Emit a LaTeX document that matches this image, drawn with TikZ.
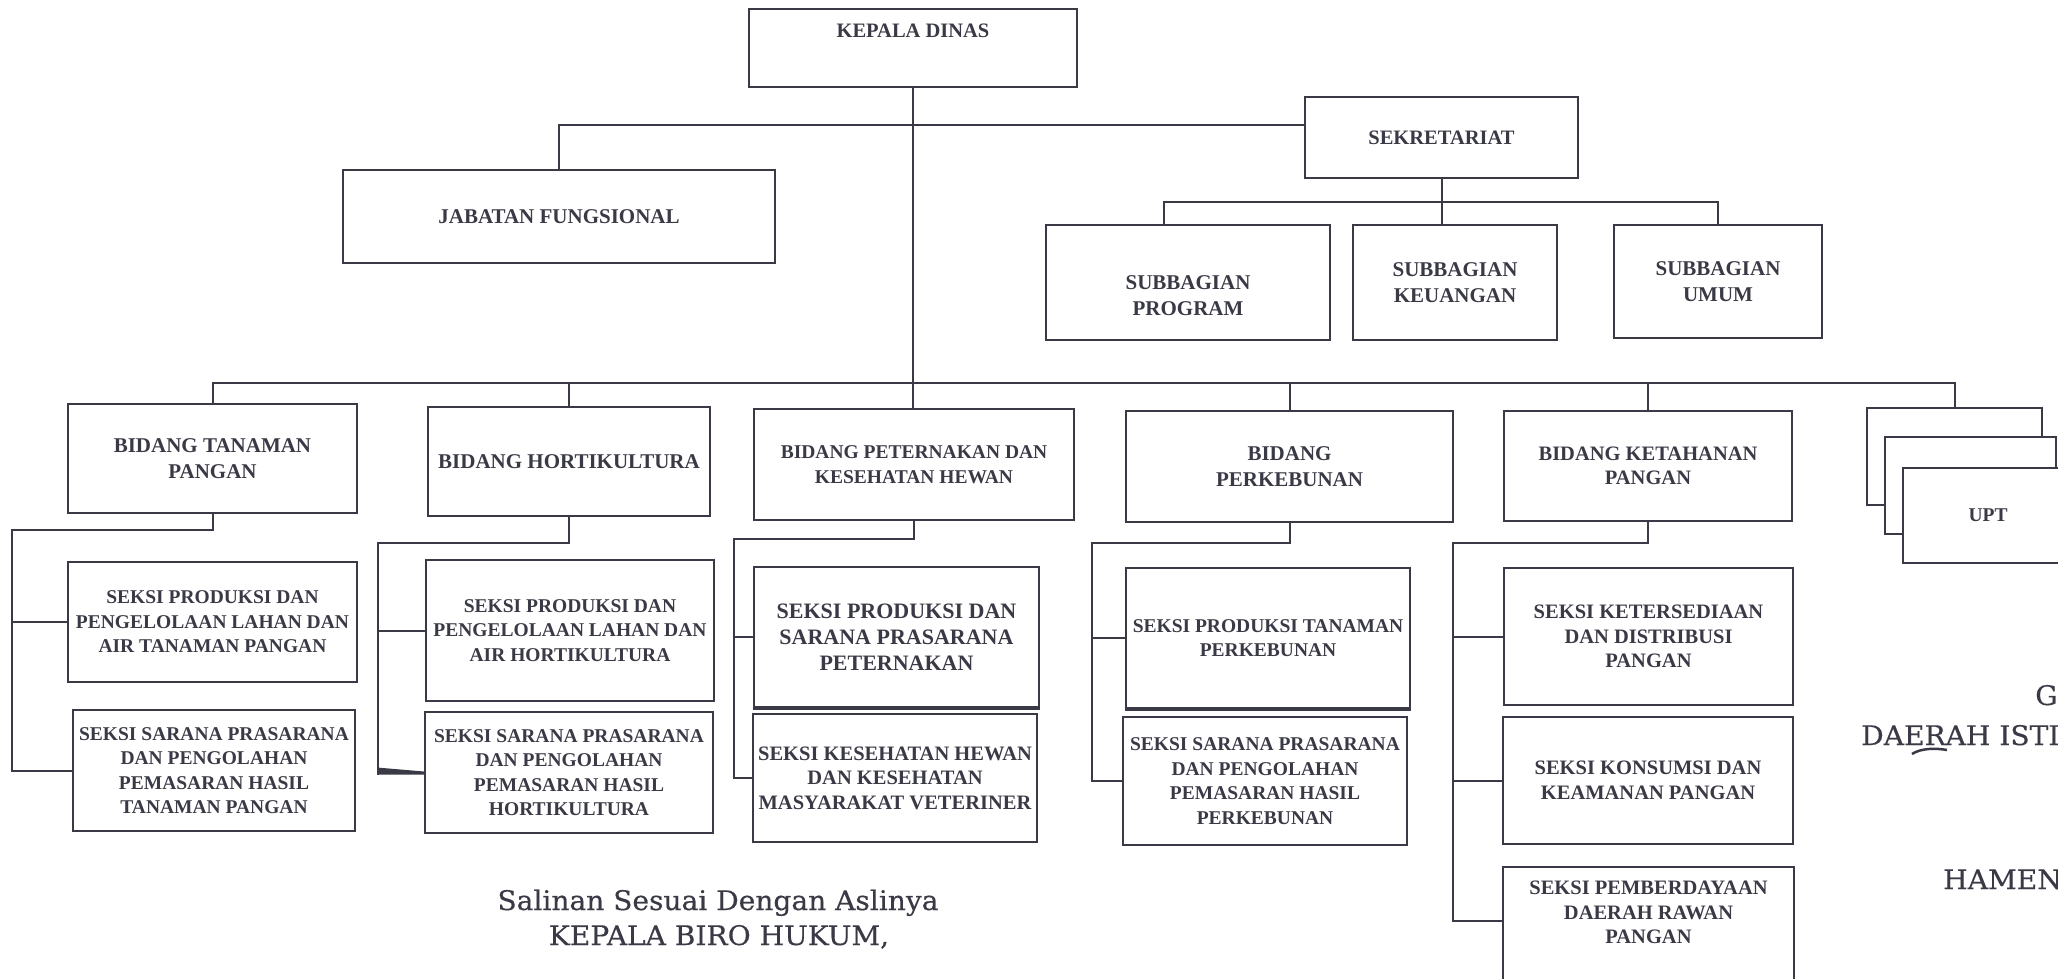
\documentclass[tikz,border=0pt]{standalone}
\usepackage{fontspec}
\setmainfont{Liberation Serif}
\newfontfamily\signfont[FakeStretch=1.04, FakeBold=0.4]{DejaVu Serif}
\usetikzlibrary{calc}
\definecolor{ink}{RGB}{58,58,70}
\tikzset{
    orgbox/.style = {draw = ink, line width = 2.2pt, fill = white, text = ink, align = center, inner sep = 2pt, font = {\fontsize{19.5}{24.5}\selectfont\bfseries}},
    midtext/.style = {font = {\fontsize{20.5}{24.5}\selectfont\bfseries}},
    bigtext/.style = {font = {\fontsize{21}{25.5}\selectfont\bfseries}},
    wire/.style = {draw = ink, line width = 2pt},
    signtext/.style = {text = ink, inner sep = 0pt, font = {\signfont\fontsize{27}{32}\selectfont}}
}
\begin{document}
\begin{tikzpicture}[x = 1pt, y = -1pt]
    \useasboundingbox (0,0) rectangle (2058,978);
    \clip (0,0) rectangle (2058,978);
    \fill [white] (0,0) rectangle (2058,978);

    \node [orgbox, midtext, minimum width = 328pt, text height = 28pt, text depth = 50pt, inner ysep = 0pt] (kepala) at (913,48) {KEPALA DINAS};
    \node [orgbox, bigtext, minimum width = 432pt, minimum height = 93pt] (jabatan) at (559,216.5) {JABATAN FUNGSIONAL};
    \node [orgbox, midtext, minimum width = 273pt, minimum height = 81pt] (sekre) at (1441.5,137.5) {SEKRETARIAT};
    \node [orgbox, bigtext, minimum width = 284pt, text height = 64.5pt, text depth = 50.5pt, inner ysep = 0pt] (subprog) at (1188,282.5) {\begin{tabular}[t]{@{}c@{}}SUBBAGIAN\\PROGRAM\end{tabular}};
    \node [orgbox, bigtext, minimum width = 204pt, minimum height = 115pt] (subkeu) at (1455,282.5) {SUBBAGIAN\\KEUANGAN};
    \node [orgbox, bigtext, minimum width = 208pt, minimum height = 113pt] (subumum) at (1718,281.5) {SUBBAGIAN\\UMUM};

    \node [orgbox, bigtext, minimum width = 289pt, minimum height = 109pt] (bidtp) at (212.5,458.5) {BIDANG TANAMAN\\PANGAN};
    \node [orgbox, bigtext, minimum width = 282pt, minimum height = 109pt] (bidhort) at (569,461.5) {BIDANG HORTIKULTURA};
    \node [orgbox, minimum width = 320pt, minimum height = 111pt] (bidtern) at (914,464.5) {BIDANG PETERNAKAN DAN\\KESEHATAN HEWAN};
    \node [orgbox, bigtext, minimum width = 327pt, minimum height = 111pt] (bidkebun) at (1289.5,466.5) {BIDANG\\PERKEBUNAN};
    \node [orgbox, midtext, minimum width = 288pt, minimum height = 110pt] (bidtahan) at (1648,466) {BIDANG KETAHANAN\\PANGAN};
    \node [orgbox, minimum width = 175pt, minimum height = 97pt] (upt1) at (1954.5,456.5) {};
    \node [orgbox, minimum width = 171pt, minimum height = 97pt] (upt2) at (1970.5,485.5) {};
    \node [orgbox, minimum width = 170pt, minimum height = 95pt] (upt3) at (1988,515.5) {UPT};

    \node [orgbox, minimum width = 289pt, minimum height = 120pt] (s1a) at (212.5,622) {SEKSI PRODUKSI DAN\\PENGELOLAAN LAHAN DAN\\AIR TANAMAN PANGAN};
    \node [orgbox, minimum width = 282pt, minimum height = 121pt] (s1b) at (214,770.5) {SEKSI SARANA PRASARANA\\DAN PENGOLAHAN\\PEMASARAN HASIL\\TANAMAN PANGAN};
    \node [orgbox, minimum width = 288pt, minimum height = 141pt] (s2a) at (570,630.5) {SEKSI PRODUKSI DAN\\PENGELOLAAN LAHAN DAN\\AIR HORTIKULTURA};
    \node [orgbox, minimum width = 288pt, minimum height = 121pt] (s2b) at (569,772.5) {SEKSI SARANA PRASARANA\\DAN PENGOLAHAN\\PEMASARAN HASIL\\HORTIKULTURA};
    \node [orgbox, minimum width = 285pt, minimum height = 140pt, font = {\fontsize{22}{26}\selectfont\bfseries}] (s3a) at (896.5,637) {SEKSI PRODUKSI DAN\\SARANA PRASARANA\\PETERNAKAN};
    \node [orgbox, midtext, minimum width = 284pt, minimum height = 128pt] (s3b) at (895,778) {SEKSI KESEHATAN HEWAN\\DAN KESEHATAN\\MASYARAKAT VETERINER};
    \node [orgbox, minimum width = 284pt, minimum height = 140pt] (s4a) at (1268,638) {SEKSI PRODUKSI TANAMAN\\PERKEBUNAN};
    \node [orgbox, minimum width = 284pt, minimum height = 128pt] (s4b) at (1265,781) {SEKSI SARANA PRASARANA\\DAN PENGOLAHAN\\PEMASARAN HASIL\\PERKEBUNAN};
    \node [orgbox, midtext, minimum width = 289pt, minimum height = 137pt] (s5a) at (1648.5,636.5) {SEKSI KETERSEDIAAN\\DAN DISTRIBUSI\\PANGAN};
    \node [orgbox, midtext, minimum width = 290pt, minimum height = 127pt] (s5b) at (1648,780.5) {SEKSI KONSUMSI DAN\\KEAMANAN PANGAN};
    \node [orgbox, midtext, minimum width = 291pt, text height = 27.5pt, text depth = 105.5pt, inner ysep = 0pt] (s5c) at (1648.5,933.5) {\begin{tabular}[t]{@{}c@{}}SEKSI PEMBERDAYAAN\\DAERAH RAWAN\\PANGAN\end{tabular}};

    \coordinate (ubus) at (0,125);
    \coordinate (sbus) at (0,202);
    \coordinate (bbus) at (0,383);
    \coordinate (sp1) at (12,530);
    \coordinate (sp2) at (378,543);
    \coordinate (sp3) at (734,539);
    \coordinate (sp4) at (1092,543);
    \coordinate (sp5) at (1453,543);

    \draw [wire] (kepala.south) -- (kepala.south |- bidtern.north);
    \draw [wire] (jabatan.north) |- (ubus -| sekre.west);
    \draw [wire] (sekre.south) -- (sekre.south |- subkeu.north);
    \draw [wire] ([xshift = -24pt]subprog.north) |- (sbus -| subumum.north) -- (subumum.north);
    \draw [wire] (bidtp.north) |- (bbus -| upt1.north) -- (upt1.north);
    \foreach \b in {bidhort, bidkebun, bidtahan}
        \draw [wire] (\b.north) -- (\b.north |- bbus);

    \draw [wire] (bidtp.south) |- (sp1) -- (sp1 |- s1b.west) -- (s1b.west);
    \draw [wire] (sp1 |- s1a.west) -- (s1a.west);
    \draw [wire] (bidhort.south) |- (sp2) -- ($(sp2 |- s2b.west) + (0,2)$);
    \draw [wire] (sp2 |- s2a.west) -- (s2a.west);
    \fill [ink] ($(sp2 |- s2b.west) + (-1,-5)$) -- ($(s2b.west) + (0,-1)$) -- ($(s2b.west) + (0,2)$) -- ($(sp2 |- s2b.west) + (-1,2)$) -- cycle;
    \draw [wire] (bidtern.south) |- (sp3) -- (sp3 |- s3b.west) -- (s3b.west);
    \draw [wire] (sp3 |- s3a.west) -- (s3a.west);
    \draw [wire] (bidkebun.south) |- (sp4) -- (sp4 |- s4b.west) -- (s4b.west);
    \draw [wire] (sp4 |- s4a.west) -- (s4a.west);
    \draw [wire] (bidtahan.south) |- (sp5) -- ($(sp5 |- s5c.north west) + (0,55)$) -- ($(s5c.north west) + (0,55)$);
    \foreach \s in {s5a, s5b}
        \draw [wire] (sp5 |- \s.west) -- (\s.west);

    \draw [ink, line width = 4pt] (s3a.south west) -- (s3a.south east);
    \draw [ink, line width = 4pt] (s4a.south west) -- (s4a.south east);

    \node [signtext, anchor = base] (salinan) at (718,910) {Salinan Sesuai Dengan Aslinya};
    \node [signtext, anchor = base] (biro) at (719,945) {KEPALA BIRO HUKUM,};
    \node [signtext, anchor = base west] (gub) at (2035,705) {G};
    \node [signtext, anchor = base west] (daerah) at (1861,745) {DAERAH ISTI};
    \node [signtext, anchor = base west] (hamen) at (1943,889) {HAMEN};
    \draw [ink, line width = 2.5pt] (1912,754) .. controls (1921,748) and (1936,748) .. (1947,750);
\end{tikzpicture}
\end{document}
